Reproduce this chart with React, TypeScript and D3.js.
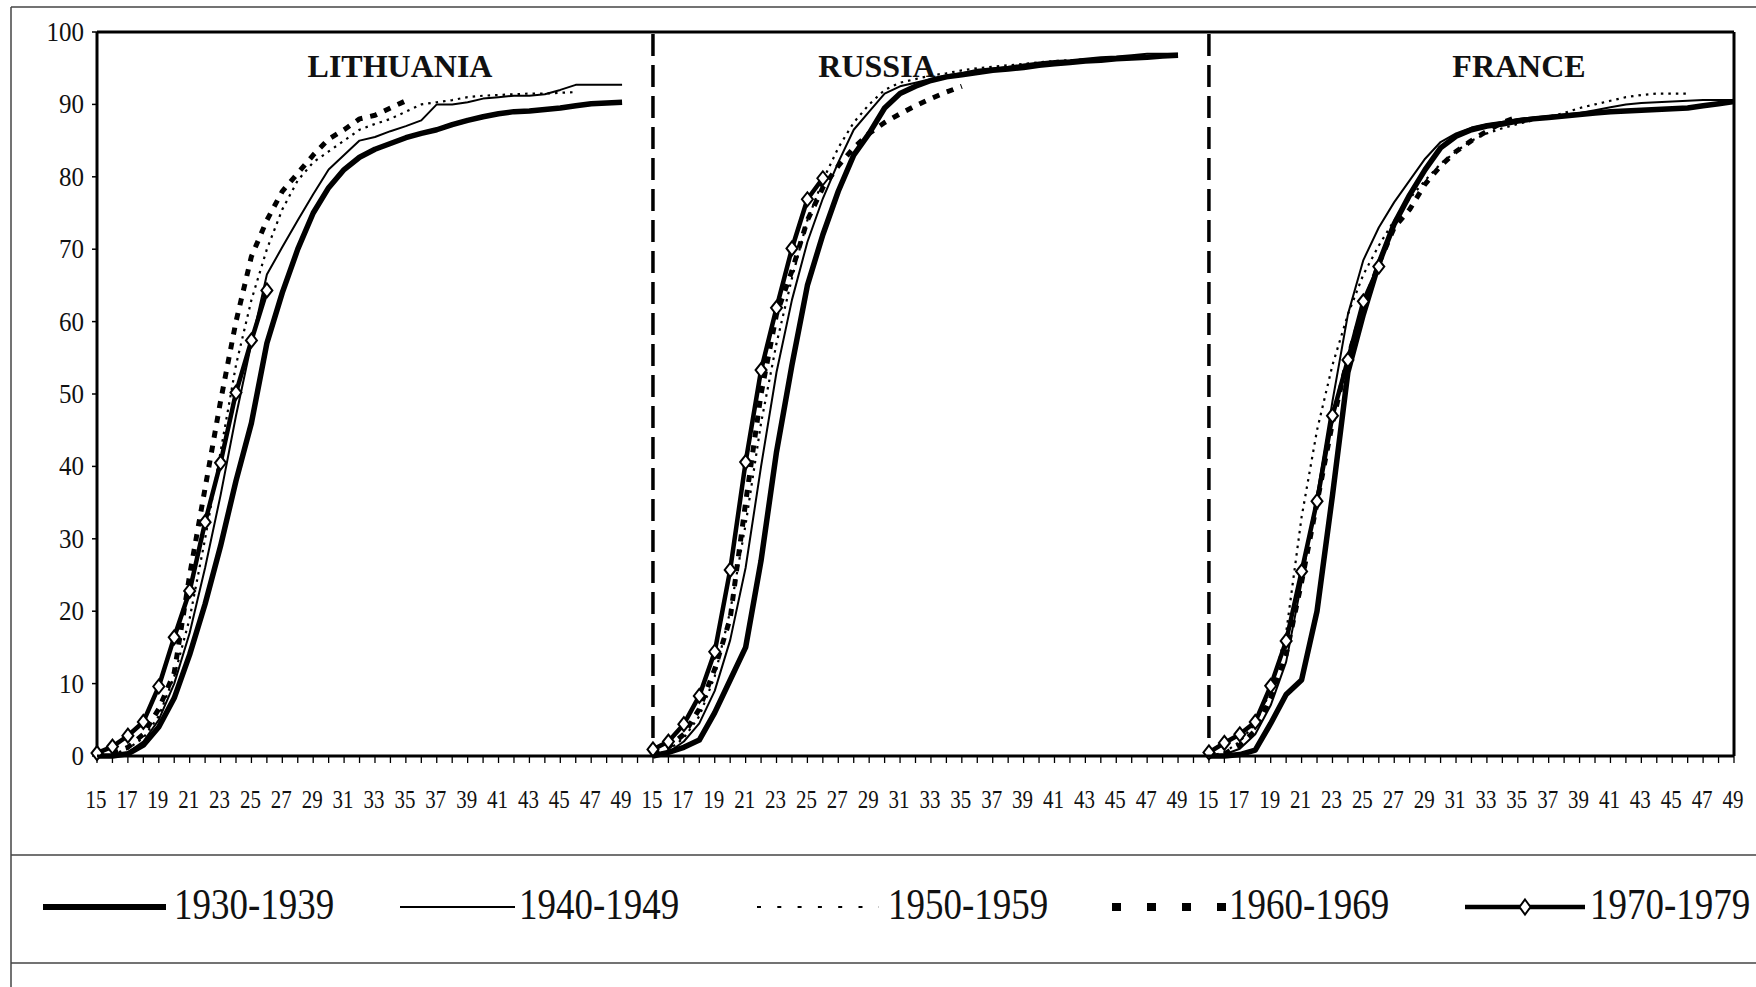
import React from "react";
import * as d3 from "d3";

// ---------------------------------------------------------------------------
// Data: cumulative % by age, five birth cohorts, three countries
// ---------------------------------------------------------------------------

const AGES = [
  15, 16, 17, 18, 19, 20, 21, 22, 23, 24, 25, 26, 27, 28, 29, 30, 31, 32, 33,
  34, 35, 36, 37, 38, 39, 40, 41, 42, 43, 44, 45, 46, 47, 48, 49,
];
const AGE_LABELS = [15, 17, 19, 21, 23, 25, 27, 29, 31, 33, 35, 37, 39, 41, 43, 45, 47, 49];
const Y_TICKS = [0, 10, 20, 30, 40, 50, 60, 70, 80, 90, 100];

const COHORTS = ["1930-1939", "1940-1949", "1950-1959", "1960-1969", "1970-1979"];
const COUNTRIES = ["LITHUANIA", "RUSSIA", "FRANCE"];

const LIT_1930 = [0, 0, 0.3, 1.5, 4, 8, 14, 21, 29, 38, 46, 57, 64, 70, 75, 78.5, 81, 82.7, 83.8, 84.6, 85.4, 86, 86.5, 87.2, 87.8, 88.3, 88.7, 89, 89.1, 89.3, 89.5, 89.8, 90.1, 90.2, 90.3];
const LIT_1940 = [0, 0, 0.5, 2, 5, 10, 17, 26, 36, 47, 57, 66.5, 70.3, 74, 77.6, 81, 83, 85, 85.5, 86.3, 87, 87.8, 90, 90, 90.3, 90.8, 91, 91.2, 91.2, 91.4, 92, 92.7, 92.7, 92.7, 92.7];
const LIT_1950 = [0, 0.2, 1, 2.5, 5.5, 11, 19, 30, 42, 54, 63, 70, 75.5, 79.5, 82, 83.5, 85, 86.5, 87.3, 88, 89, 90, 90.3, 90.6, 91, 91.2, 91.3, 91.4, 91.5, 91.5, 91.6, 91.7];
const LIT_1960 = [0, 0.3, 1.2, 3, 6.5, 11.5, 25, 37, 49, 60, 69, 74, 78, 80.5, 83, 85.2, 86.5, 88, 88.5, 89.5, 90.5];
const LIT_1970 = [0.4, 1.3, 2.8, 4.7, 9.6, 16.4, 22.8, 32.3, 40.5, 50.2, 57.4, 64.3];

const RUS_1930 = [0, 0.5, 1.2, 2.2, 6, 10.5, 15, 27, 42, 54, 65, 72, 78, 83, 86, 89.5, 91.5, 92.5, 93.3, 93.8, 94.1, 94.4, 94.7, 94.9, 95.1, 95.4, 95.6, 95.8, 96, 96.1, 96.3, 96.4, 96.5, 96.7, 96.8];
const RUS_1940 = [0, 0.5, 2, 4.5, 9, 16, 26, 40, 53, 63, 71, 77, 82, 86.5, 89, 91.5, 92.5, 93, 93.5, 94, 94.3, 94.8, 95, 95.2, 95.5, 95.8, 96, 96.1, 96.3, 96.5, 96.6, 96.8, 97, 97, 97];
const RUS_1950 = [0, 0.8, 2.5, 5.5, 11, 20, 32, 46, 57, 66, 74, 79.5, 84, 87.5, 90, 92, 93, 93.5, 94, 94.3, 94.7, 95, 95.2, 95.4, 95.6, 95.8, 96, 96.1, 96.2, 96.3, 96.5, 96.5];
const RUS_1960 = [0.3, 1.2, 3, 6.5, 12, 19, 35, 50, 61, 67, 74, 78.5, 81.5, 84, 86, 87.5, 88.7, 89.8, 90.8, 91.7, 92.5];
const RUS_1970 = [0.9, 2, 4.4, 8.3, 14.4, 25.7, 40.6, 53.3, 61.9, 70.1, 76.9, 79.8];

const FRA_1930 = [0, 0, 0.2, 0.8, 4.5, 8.5, 10.5, 20, 36, 53, 61, 68, 73.5, 77.5, 81, 84, 85.6, 86.5, 87, 87.3, 87.7, 88, 88.2, 88.4, 88.6, 88.8, 89, 89.1, 89.2, 89.3, 89.4, 89.5, 89.8, 90.1, 90.4];
const FRA_1940 = [0, 0.2, 1, 3, 7, 13, 24, 36, 49, 61, 68.5, 73, 76.5, 79.5, 82.5, 84.8, 86, 86.8, 87.3, 87.6, 88, 88.2, 88.4, 88.6, 88.8, 89.2, 89.6, 90, 90.2, 90.3, 90.4, 90.5, 90.6, 90.6, 90.6];
const FRA_1950 = [0, 0.5, 2, 4.5, 9, 17, 33, 45, 54, 61, 66.5, 70.5, 74, 77, 79.5, 81.8, 83.5, 85, 86, 86.7, 87.3, 87.8, 88.3, 88.8, 89.5, 90, 90.5, 91, 91.3, 91.5, 91.5, 91.5];
const FRA_1960 = [0, 0.3, 1.5, 3.5, 8, 14, 24, 35, 46, 55, 62, 68, 73, 75.5, 79, 81.5, 83.5, 85, 86.3, 87.5, 88.3];
const FRA_1970 = [0.5, 1.8, 3, 4.7, 9.7, 15.9, 25.5, 35.2, 47, 54.7, 62.8, 67.6];

const SERIES: number[][][] = [
  [LIT_1930, LIT_1940, LIT_1950, LIT_1960, LIT_1970],
  [RUS_1930, RUS_1940, RUS_1950, RUS_1960, RUS_1970],
  [FRA_1930, FRA_1940, FRA_1950, FRA_1960, FRA_1970],
];

// ---------------------------------------------------------------------------
// Layout
// ---------------------------------------------------------------------------

const W = 1756;
const H = 987;
const PANEL_OFFSET = [0, 36, 72]; // one blank category between panels
const N_CAT = 107;
const TITLE_X = [400, 877, 1519];

const STYLES = [
  { width: 5.5, dash: null },
  { width: 2, dash: null },
  { width: 2.2, dash: "2.5,5" },
  { width: 5, dash: "7,8" },
  { width: 4.5, dash: null },
];

const LEGEND_X = [
  { x1: 43, x2: 166, tx: 174 },
  { x1: 400, x2: 515, tx: 519 },
  { x1: 757, x2: 879, tx: 888 },
  { x1: 1112, x2: 1226, tx: 1229 },
  { x1: 1465, x2: 1585, tx: 1590 },
];

const FONT = "'Liberation Serif', 'Times New Roman', serif";
const DIAMOND = "M0,-7L5.5,0L0,7L-5.5,0Z";

function SText({ x, y, sy = 1, size, anchor = "start", weight = "normal", children }: any) {
  return (
    <text
      transform={`translate(${x},${y}) scale(1,${sy})`}
      fontFamily={FONT}
      fontSize={size}
      fontWeight={weight}
      textAnchor={anchor}
      fill="#111"
    >
      {children}
    </text>
  );
}

export default function App() {
  const x = d3.scaleLinear().domain([0, N_CAT - 1]).range([97, 1734]);
  const y = d3.scaleLinear().domain([0, 100]).range([756, 32]);

  const line = d3
    .line<[number, number]>()
    .x((d) => x(d[0]))
    .y((d) => y(d[1]));

  const ticks = d3.range(N_CAT);

  return (
    <div style={{ position: "absolute", left: 0, top: 0 }}>
      <svg width={W} height={H} style={{ display: "block", background: "#fff" }}>
        {/* outer frame */}
        <g stroke="#444" strokeWidth={1.5} fill="none">
          <line x1={11} y1={7} x2={W} y2={7} />
          <line x1={11} y1={7} x2={11} y2={H} />
          <line x1={11} y1={855} x2={W} y2={855} />
          <line x1={11} y1={963} x2={W} y2={963} />
        </g>

        {/* plot frame */}
        <g stroke="#000" strokeWidth={3} fill="none">
          <line x1={x(0)} y1={y(100)} x2={x(N_CAT - 1)} y2={y(100)} />
          <line x1={x(N_CAT - 1)} y1={y(100)} x2={x(N_CAT - 1)} y2={y(0)} />
          <line x1={x(0)} y1={y(100)} x2={x(0)} y2={y(0)} />
        </g>

        {/* y ticks and labels */}
        {Y_TICKS.map((t) => (
          <g key={t}>
            <line x1={92} x2={97} y1={y(t)} y2={y(t)} stroke="#000" strokeWidth={1.5} />
            <SText x={84} y={y(t) + 9} sy={1.1} size={25} anchor="end">
              {t}
            </SText>
          </g>
        ))}

        {/* x ticks */}
        {ticks.map((i) => (
          <line key={i} x1={x(i)} x2={x(i)} y1={y(0)} y2={y(0) + 7} stroke="#000" strokeWidth={1.3} />
        ))}
        {PANEL_OFFSET.map((off, p) =>
          AGE_LABELS.map((a) => (
            <SText key={`${p}-${a}`} x={x(off + a - 15) - 1} y={808} sy={1.15} size={21} anchor="middle">
              {a}
            </SText>
          ))
        )}

        {/* panel separators */}
        {PANEL_OFFSET.slice(1).map((off) => (
          <line
            key={off}
            x1={x(off)}
            x2={x(off)}
            y1={y(100) + 2}
            y2={y(0)}
            stroke="#000"
            strokeWidth={3.5}
            strokeDasharray="22,9"
          />
        ))}

        {/* titles */}
        {COUNTRIES.map((c, i) => (
          <SText key={c} x={TITLE_X[i]} y={77} size={32} weight="bold" anchor="middle">
            {c}
          </SText>
        ))}

        {/* series */}
        {SERIES.map((panel, p) =>
          panel.map((vals, s) => {
            const pts: [number, number][] = vals.map((v, i) => [PANEL_OFFSET[p] + AGES[i] - 15, v]);
            const st = STYLES[s];
            return (
              <g key={`${p}-${s}`}>
                <path
                  d={line(pts) || ""}
                  fill="none"
                  stroke="#000"
                  strokeWidth={st.width}
                  strokeDasharray={st.dash || undefined}
                  strokeLinejoin="round"
                />
                {s === 4 &&
                  pts.map((d, i) => (
                    <path
                      key={i}
                      d={DIAMOND}
                      transform={`translate(${x(d[0])},${y(d[1])})`}
                      fill="#fff"
                      stroke="#000"
                      strokeWidth={2}
                    />
                  ))}
              </g>
            );
          })
        )}

        {/* x axis line on top */}
        <line x1={x(0)} x2={x(N_CAT - 1)} y1={y(0)} y2={y(0)} stroke="#000" strokeWidth={3} />

        {/* legend */}
        {COHORTS.map((c, i) => {
          const L = LEGEND_X[i];
          const st = STYLES[i];
          const ly = 907;
          let dash: string | undefined = undefined;
          let sw = st.width;
          if (i === 2) dash = "4,16.3";
          if (i === 3) {
            dash = "9,26";
            sw = 8;
          }
          if (i === 0) sw = 6;
          return (
            <g key={c}>
              <line x1={L.x1} x2={L.x2} y1={ly} y2={ly} stroke="#000" strokeWidth={sw} strokeDasharray={dash} />
              {i === 4 && (
                <path d="M0,-7.5L5.5,0L0,7.5L-5.5,0Z" transform={`translate(${(L.x1 + L.x2) / 2},${ly})`} fill="#fff" stroke="#000" strokeWidth={2} />
              )}
              <SText x={L.tx} y={919} sy={1.22} size={37}>
                {c}
              </SText>
            </g>
          );
        })}
      </svg>
    </div>
  );
}
